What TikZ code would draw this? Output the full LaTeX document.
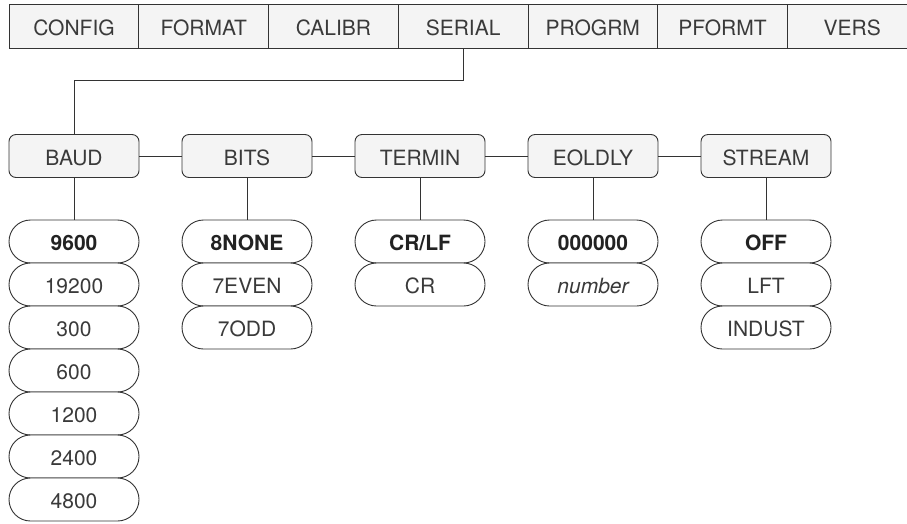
\documentclass[tikz,border=0pt]{standalone}
\usepackage{fontspec}
\setmainfont{TeX Gyre Heros}
\definecolor{trait}{HTML}{333333}
\definecolor{fond}{HTML}{F4F4F4}
\definecolor{texte}{HTML}{3A3A3A}
\definecolor{defaut}{HTML}{222222}
\begin{document}
\begin{tikzpicture}[x=1pt,y=-1pt]
% Styles
\tikzstyle{police}=[font=\fontsize{21}{24}\selectfont,text height=18.5pt,text depth=0pt]
\tikzstyle{menu}=[police,draw=trait,fill=fond,line width=0.9pt,inner sep=0pt,text=texte,minimum width=129.7pt,minimum height=43.5pt]
\tikzstyle{param}=[police,draw=trait,fill=fond,line width=0.9pt,inner sep=0pt,text=texte,rounded corners=7pt,minimum width=130pt,minimum height=43pt]
\tikzstyle{choix}=[police,draw=trait,fill=white,line width=0.9pt,inner sep=0pt,text=texte,rounded corners=21.5pt,minimum width=130pt,minimum height=43pt]
\tikzstyle{defchoix}=[choix,text=defaut,font=\fontsize{21}{24}\selectfont\bfseries]
\tikzstyle{lien}=[draw=trait,line width=0.9pt]
% Dimensions Modifiables
\def\Lcase{129.7}
\def\Lrg{173}
\def\HtO{43}
% Dimensions Calculées
\def\xzero{74}
\def\ymenu{26.3}
\def\yparam{156}
\def\ychoix{241.5}
% Cadre
\useasboundingbox (0,0) rectangle (907,523);
% Ligne du menu
\node[menu] (config) at ({\xzero+0*\Lcase},\ymenu) {CONFIG};
\node[menu] (format) at ({\xzero+1*\Lcase},\ymenu) {FORMAT};
\node[menu] (calibr) at ({\xzero+2*\Lcase},\ymenu) {CALIBR};
\node[menu] (serial) at ({\xzero+3*\Lcase},\ymenu) {SERIAL};
\node[menu] (progrm) at ({\xzero+4*\Lcase},\ymenu) {PROGRM};
\node[menu] (pformt) at ({\xzero+5*\Lcase},\ymenu) {PFORMT};
\node[menu] (vers) at ({\xzero+6*\Lcase},\ymenu) {VERS};
% Ligne des paramètres
\node[param] (baud) at ({\xzero+0*\Lrg},\yparam) {BAUD};
\node[param] (bits) at ({\xzero+1*\Lrg},\yparam) {BITS};
\node[param] (termin) at ({\xzero+2*\Lrg},\yparam) {TERMIN};
\node[param] (eoldly) at ({\xzero+3*\Lrg},\yparam) {EOLDLY};
\node[param] (stream) at ({\xzero+4*\Lrg},\yparam) {STREAM};
% Colonne BAUD
\node[defchoix] (b9600) at ({\xzero+0*\Lrg},{\ychoix+0*\HtO}) {9600};
\node[choix] (b19200) at ({\xzero+0*\Lrg},{\ychoix+1*\HtO}) {19200};
\node[choix] (b300) at ({\xzero+0*\Lrg},{\ychoix+2*\HtO}) {300};
\node[choix] (b600) at ({\xzero+0*\Lrg},{\ychoix+3*\HtO}) {600};
\node[choix] (b1200) at ({\xzero+0*\Lrg},{\ychoix+4*\HtO}) {1200};
\node[choix] (b2400) at ({\xzero+0*\Lrg},{\ychoix+5*\HtO}) {2400};
\node[choix] (b4800) at ({\xzero+0*\Lrg},{\ychoix+6*\HtO}) {4800};
% Colonne BITS
\node[defchoix] (n8none) at ({\xzero+1*\Lrg},{\ychoix+0*\HtO}) {8NONE};
\node[choix] (n7even) at ({\xzero+1*\Lrg},{\ychoix+1*\HtO}) {7EVEN};
\node[choix] (n7odd) at ({\xzero+1*\Lrg},{\ychoix+2*\HtO}) {7ODD};
% Colonne TERMIN
\node[defchoix] (crlf) at ({\xzero+2*\Lrg},{\ychoix+0*\HtO}) {CR/LF};
\node[choix] (cr) at ({\xzero+2*\Lrg},{\ychoix+1*\HtO}) {CR};
% Colonne EOLDLY
\node[defchoix] (zero) at ({\xzero+3*\Lrg},{\ychoix+0*\HtO}) {000000};
\node[choix] (nombre) at ({\xzero+3*\Lrg},{\ychoix+1*\HtO}) {\itshape number};
% Colonne STREAM
\node[defchoix] (off) at ({\xzero+4*\Lrg},{\ychoix+0*\HtO}) {OFF};
\node[choix] (lft) at ({\xzero+4*\Lrg},{\ychoix+1*\HtO}) {LFT};
\node[choix] (indust) at ({\xzero+4*\Lrg},{\ychoix+2*\HtO}) {INDUST};
% Liens
\draw[lien] (serial.south) -- ++(0,32) -| (baud.north);
\draw[lien] (baud) -- (bits);
\draw[lien] (bits) -- (termin);
\draw[lien] (termin) -- (eoldly);
\draw[lien] (eoldly) -- (stream);
\draw[lien] (baud) -- (b9600);
\draw[lien] (bits) -- (n8none);
\draw[lien] (termin) -- (crlf);
\draw[lien] (eoldly) -- (zero);
\draw[lien] (stream) -- (off);
\end{tikzpicture}
\end{document}
